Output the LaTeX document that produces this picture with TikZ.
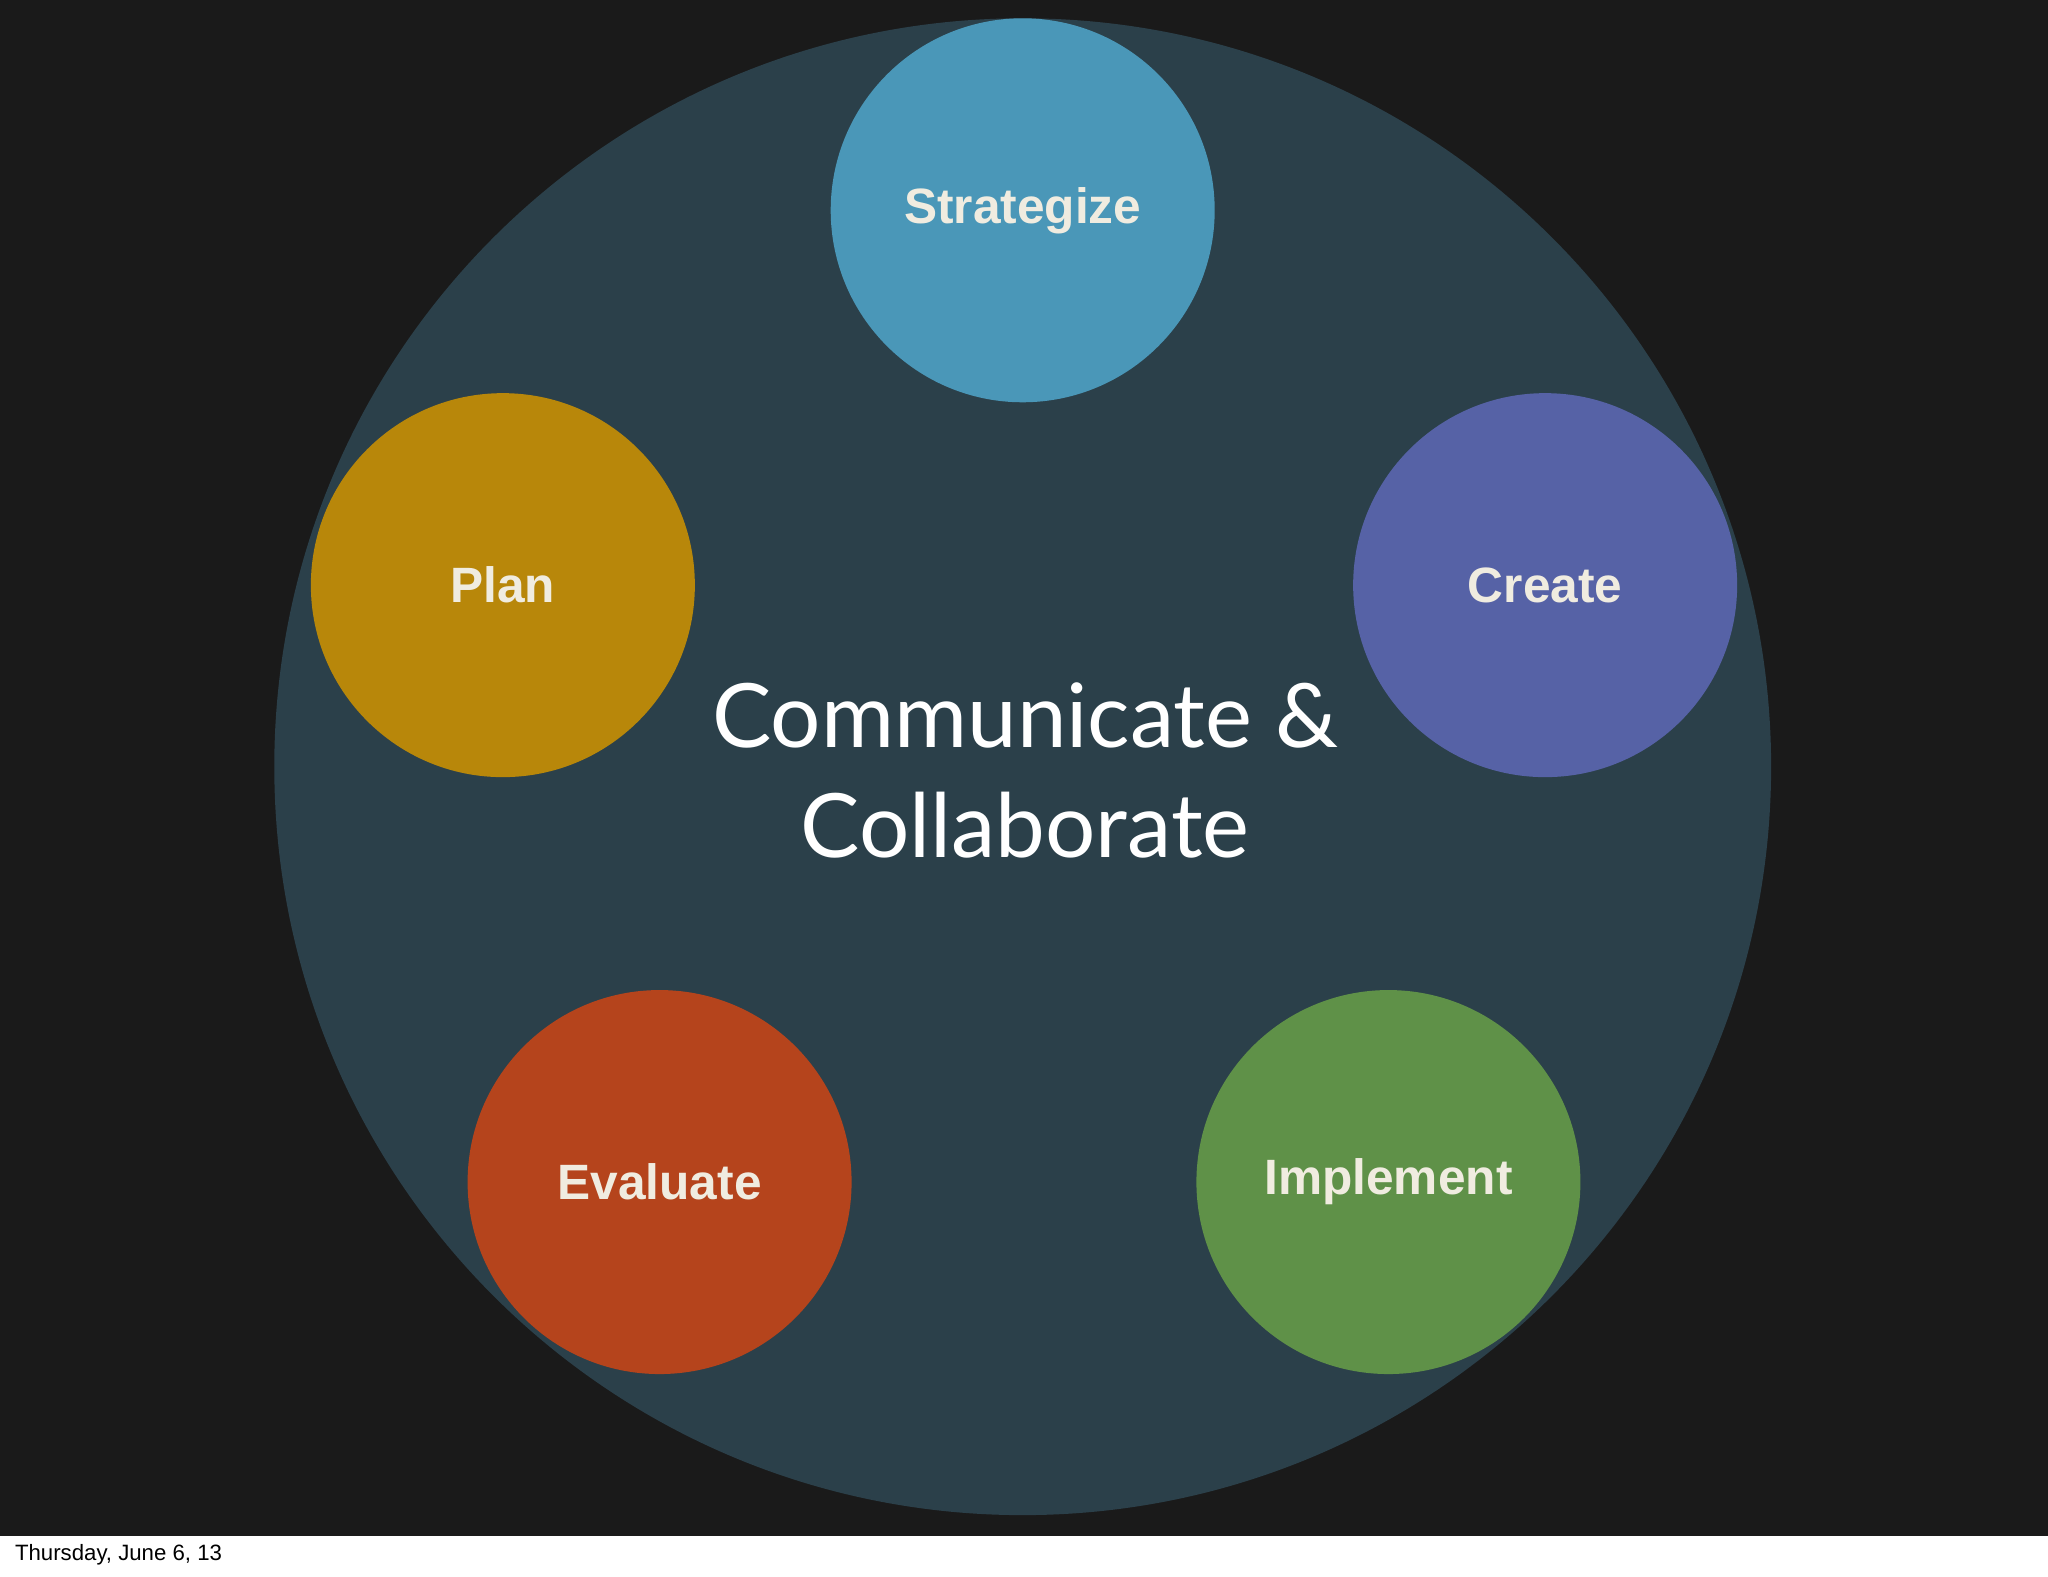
\documentclass[tikz,border=0pt]{standalone}
\usepackage{fontspec}
\setmainfont{Liberation Sans}
\newfontfamily\gill{Lato}
\definecolor{bgdark}{HTML}{1A1A1A}
\definecolor{bigc}{HTML}{2B404A}
\definecolor{cstrat}{HTML}{4A97B8}
\definecolor{cplan}{HTML}{B8870A}
\definecolor{ccreate}{HTML}{5662A6}
\definecolor{ceval}{HTML}{B5441C}
\definecolor{cimpl}{HTML}{5F9148}
\definecolor{lbl}{HTML}{F0ECE0}
\begin{document}
\begin{tikzpicture}[x=1pt,y=-1pt,
  stage/.style={circle,minimum size=294pt,inner sep=0pt,text=lbl,font=\fontsize{38}{44}\selectfont\bfseries}]
\useasboundingbox (0,0) rectangle (1568,1207);
\fill[white] (0,0) rectangle (1568,1207);
\fill[bgdark] (0,0) rectangle (1568,1176);
\node[circle,fill=bigc,minimum size=1146pt,inner sep=0pt] (big) at (783,587) {};
\node[stage,fill=cstrat] (strat) at (783,161) {Strategize};
\node[stage,fill=cplan] (plan) at (385,448) {Plan};
\node[stage,fill=ccreate] (create) at (1183,448) {Create};
\node[stage,fill=ceval] (eval) at (505,905) {Evaluate};
\node[stage,fill=cimpl] (impl) at (1063,905) {Implement};
\node[text=white,align=center,font=\gill\fontsize{68}{84}\selectfont] (center) at (785,590) {Communicate \&\\Collaborate};
\node[anchor=west,font=\fontsize{17}{20}\selectfont] (date) at (8,1190) {Thursday, June 6, 13};
\end{tikzpicture}
\end{document}
